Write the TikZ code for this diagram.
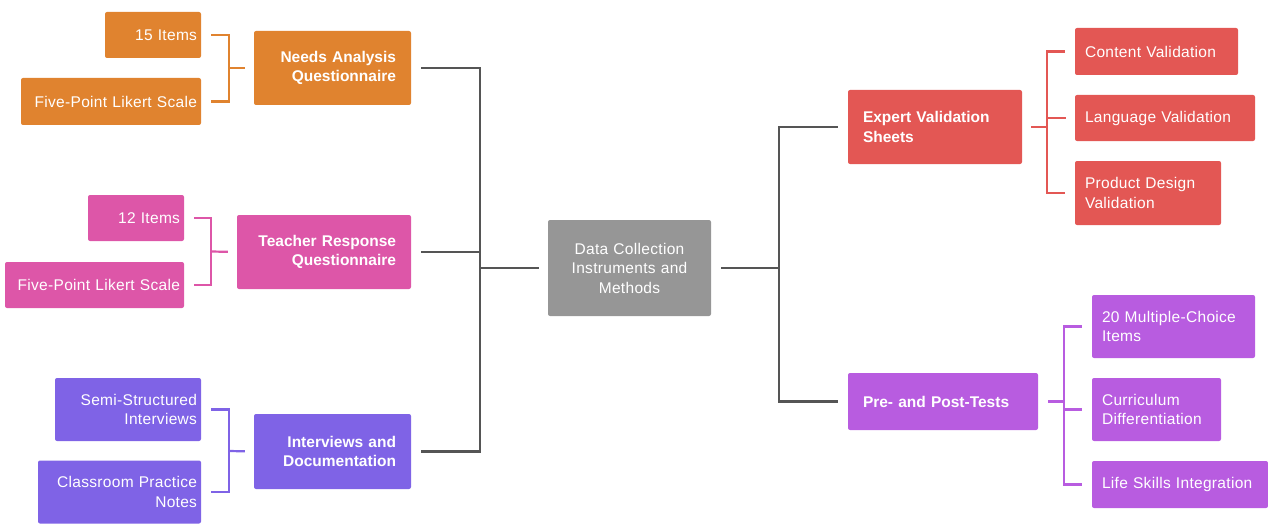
\documentclass[tikz,border=0pt]{standalone}
\usepackage{fontspec}
\setmainfont{Liberation Sans}[UprightFeatures={LetterSpace=2}]
\usepackage{tikz}
\usetikzlibrary{calc}
\definecolor{orng}{HTML}{E0832F}
\definecolor{pnk}{HTML}{DD56A8}
\definecolor{lav}{HTML}{7F63E6}
\definecolor{gry}{HTML}{969696}
\definecolor{rd}{HTML}{E35754}
\definecolor{vio}{HTML}{B85CE0}
\definecolor{trunk}{HTML}{555555}
\tikzset{
 box/.style={rectangle,rounded corners=2pt,text=white,inner sep=0pt,
  font=\fontsize{15.5}{19.5}\selectfont},
 kidL/.style={box,align=right},
 kidR/.style={box,align=left},
 headL/.style={box,align=right,font=\fontsize{15.5}{19.5}\selectfont\bfseries},
 headR/.style={box,align=left,font=\fontsize{15.5}{19.5}\selectfont\bfseries},
 trunkline/.style={draw=trunk,line width=2.5pt},
 twig/.style={line width=2.2pt},
 gap/.style={shorten <=10pt,shorten >=10pt},
}
\begin{document}
\begin{tikzpicture}[x=1pt,y=-1pt]
\useasboundingbox (0,0) rectangle (1268,524);

\node[kidL,fill=orng,minimum width=96,minimum height=46,text width=88] (i15) at (153,35) {15 Items};
\node[kidL,fill=orng,minimum width=180,minimum height=47,text width=172] (fla) at (111,101.5) {Five-Point Likert Scale};
\node[headL,fill=orng,minimum width=157,minimum height=74,text width=127] (naq) at (332.5,68) {Needs Analysis\\Questionnaire};

\node[kidL,fill=pnk,minimum width=96,minimum height=46,text width=88] (i12) at (136,218) {12 Items};
\node[kidL,fill=pnk,minimum width=179,minimum height=46,text width=171] (flb) at (94.5,285) {Five-Point Likert Scale};
\node[headL,fill=pnk,minimum width=174,minimum height=74,text width=144] (trq) at (324,252) {Teacher Response\\Questionnaire};

\node[kidL,fill=lav,minimum width=146,minimum height=63,text width=138] (ssi) at (128,409.5) {Semi-Structured\\Interviews};
\node[kidL,fill=lav,minimum width=163,minimum height=63,text width=155] (cpn) at (119.5,492) {Classroom Practice\\Notes};
\node[headL,fill=lav,minimum width=157,minimum height=75,text width=127] (ido) at (332.5,451.5) {Interviews and\\Documentation};

\node[box,fill=gry,align=center,minimum width=163,minimum height=96,text width=150] (dcm) at (629.5,268) {Data Collection\\Instruments and\\Methods};

\node[headR,fill=rd,minimum width=174,minimum height=74,text width=144] (evs) at (935,127) {Expert Validation\\Sheets};
\node[kidR,fill=rd,minimum width=163,minimum height=47,text width=143] (cva) at (1156.5,51.5) {Content Validation};
\node[kidR,fill=rd,minimum width=180,minimum height=46,text width=160] (lva) at (1165,118) {Language Validation};
\node[kidR,fill=rd,minimum width=146,minimum height=64,text width=126] (pdv) at (1148,193) {Product Design\\Validation};

\node[headR,fill=vio,minimum width=190,minimum height=57,text width=160] (ppt) at (943,401.5) {Pre- and Post-Tests};
\node[kidR,fill=vio,minimum width=163,minimum height=63,text width=143] (mci) at (1173.5,326.5) {20 Multiple-Choice\\Items};
\node[kidR,fill=vio,minimum width=129,minimum height=63,text width=109] (cdi) at (1156.5,409.5) {Curriculum\\Differentiation};
\node[kidR,fill=vio,minimum width=176,minimum height=47,text width=156] (lsi) at (1180,484.5) {Life Skills Integration};

\coordinate (ob) at (229,68);
\coordinate (pb) at (211,251.5);
\coordinate (lb) at (229,451);
\coordinate (lx) at (480,268);
\coordinate (rx) at (779,268);
\coordinate (rb) at (1047,127);
\coordinate (vb) at (1064,401.5);

\draw[twig,orng,gap] (i15.east) -| (ob) |- (fla.east);
\draw[twig,orng,shorten >=9pt] (ob) -- (naq.west);
\draw[twig,pnk,gap] (i12.east) -| (pb) |- (flb.east);
\draw[twig,pnk,shorten >=9pt] (pb) -- (trq.west);
\draw[twig,lav,gap] (ssi.east) -| (lb) |- (cpn.east);
\draw[twig,lav,shorten >=9pt] (lb) -- (ido.west);

\draw[trunkline,gap] (naq.east) -| (lx) |- (ido.east);
\draw[trunkline,shorten <=10pt] (trq.east) -- (trq.east -| lx);
\draw[trunkline,shorten >=9pt] (lx) -- (dcm.west);
\draw[trunkline,shorten <=10pt] (dcm.east) -- (rx);
\draw[trunkline,gap] (evs.west) -| (rx) |- (ppt.west);

\draw[twig,rd,shorten <=9pt] (evs.east) -- (rb);
\draw[twig,rd,gap] (cva.west) -| (rb) |- (pdv.west);
\draw[twig,rd,shorten <=9pt] (lva.west) -- (lva.west -| rb);
\draw[twig,vio,shorten <=10pt] (ppt.east) -- (vb);
\draw[twig,vio,gap] (mci.west) -| (vb) |- (lsi.west);
\draw[twig,vio,shorten <=10pt] (cdi.west) -- (cdi.west -| vb);

\end{tikzpicture}
\end{document}
